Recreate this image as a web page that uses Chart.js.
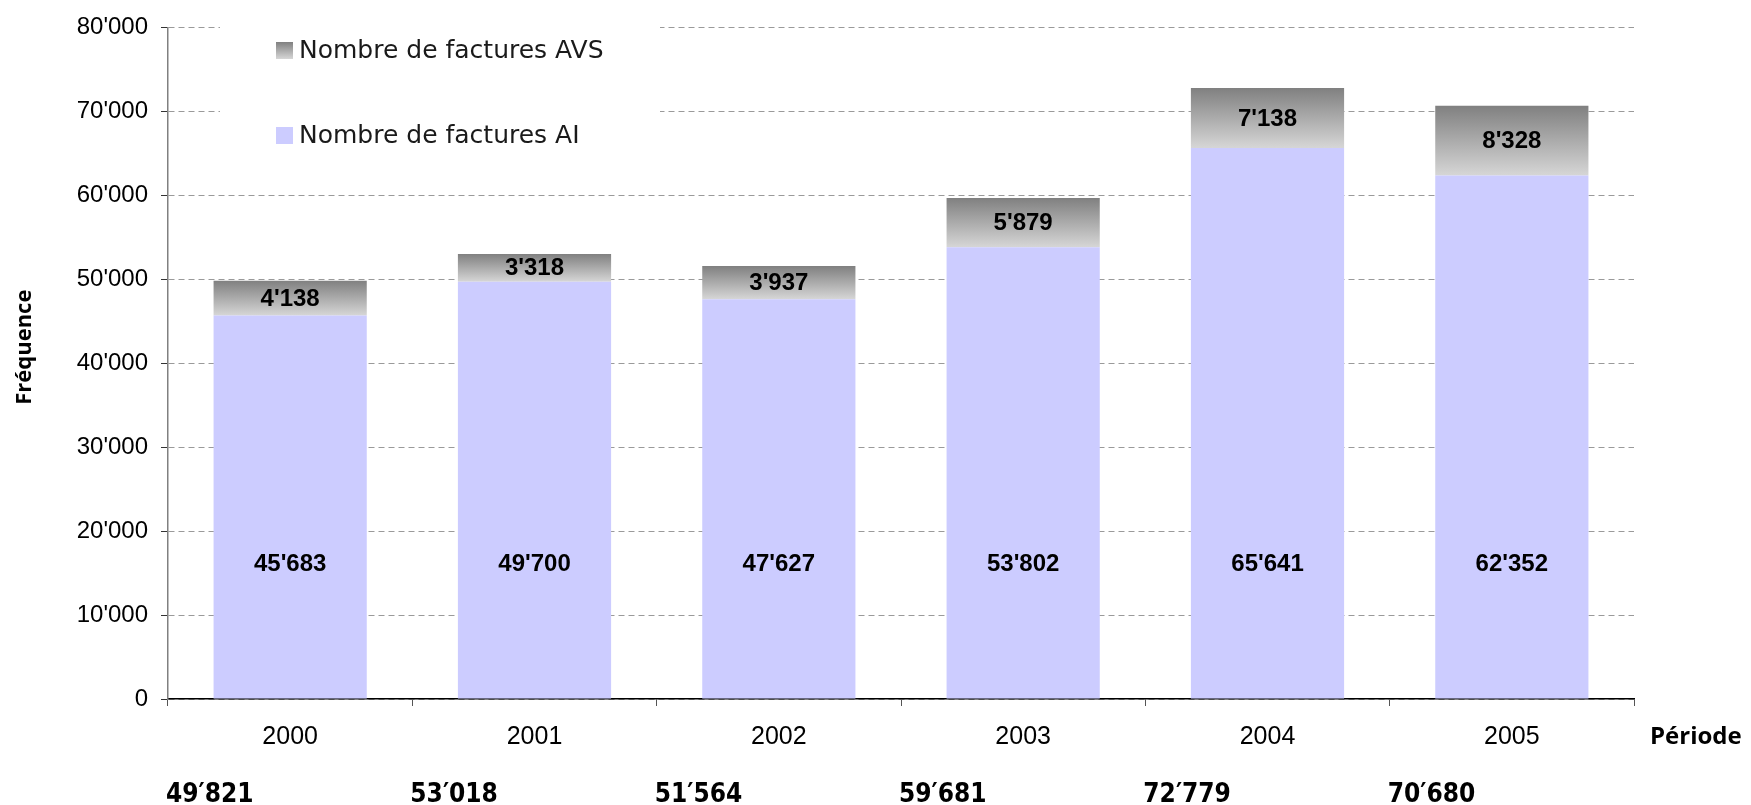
<!DOCTYPE html>
<html>
<head>
<meta charset="utf-8">
<script src="https://cdn.jsdelivr.net/npm/chart.js@4"></script>
<style>
    html, body { margin: 0; padding: 0; background: #fff; }
</style>
</head>
<body>
<canvas id="grafico" width="1751" height="805"></canvas>
<script>
// données
var annees = ["2000", "2001", "2002", "2003", "2004", "2005"];
var facturesAI = [45683, 49700, 47627, 53802, 65641, 62352];
var facturesAVS = [4138, 3318, 3937, 5879, 7138, 8328];
var totaux = [49821, 53018, 51564, 59681, 72779, 70680];
var echelleY = { min: 0, max: 80000, pas: 10000 };
var legendeAVS = "Nombre de factures AVS";
var legendeAI = "Nombre de factures AI";

var policeTexte = "'Liberation Sans', Arial, sans-serif";

function formatNombre(n, sep) {
    return String(n).replace(/\B(?=(\d{3})+(?!\d))/g, sep || "'");
}

function degradeGris(ctx, haut, bas) {
    var g = ctx.createLinearGradient(0, haut, 0, bas);
    g.addColorStop(0, "#808080");
    g.addColorStop(1, "#d6d6d6");
    return g;
}

// légende, étiquettes des barres, totaux et titres des axes
var etiquettes = {
    id: "etiquettes",
    beforeDatasetsDraw: function (chart) {
        // fond blanc de la légende qui cache le quadrillage
        var ctx = chart.ctx;
        ctx.save();
        ctx.fillStyle = "#fff";
        ctx.fillRect(220, 0, 440, 165);
        ctx.font = "25px 'DejaVu Sans', sans-serif";
        ctx.textBaseline = "middle";
        ctx.textAlign = "left";
        ctx.fillStyle = degradeGris(ctx, 42, 59);
        ctx.fillRect(276, 42, 17, 17);
        ctx.fillStyle = "#ccccff";
        ctx.fillRect(276, 127, 17, 17);
        ctx.fillStyle = "#1a1a1a";
        ctx.fillText(chart.data.datasets[1].label, 299, 51);
        ctx.fillText(chart.data.datasets[0].label, 299, 136);
        ctx.restore();
    },
    afterDatasetsDraw: function (chart) {
        var ctx = chart.ctx;
        var y = chart.scales.y;
        var metaAI = chart.getDatasetMeta(0);
        var metaAVS = chart.getDatasetMeta(1);
        ctx.save();
        ctx.font = "bold 24px " + policeTexte;
        ctx.fillStyle = "#000";
        ctx.textAlign = "center";
        ctx.textBaseline = "middle";
        for (var i = 0; i < annees.length; i++) {
            var bAI = metaAI.data[i];
            ctx.fillText(formatNombre(facturesAI[i]), bAI.x, y.getPixelForValue(16000));
            var bAVS = metaAVS.data[i];
            ctx.fillText(formatNombre(facturesAVS[i]), bAVS.x, (bAVS.y + bAVS.base) / 2 + 1);
        }
        ctx.restore();
    },
    afterDraw: function (chart) {
        var ctx = chart.ctx;
        var x = chart.scales.x;
        var area = chart.chartArea;
        ctx.save();
        ctx.fillStyle = "#000";
        ctx.textBaseline = "middle";
        ctx.textAlign = "left";
        ctx.font = "bold 26px 'DejaVu Sans Condensed', 'DejaVu Sans', sans-serif";
        for (var i = 0; i < totaux.length; i++) {
            ctx.fillText(formatNombre(totaux[i], "\u2032"), x.getPixelForValue(i - 0.5) - 2, 795);
        }
        ctx.font = "bold 24px 'Open Sans', sans-serif";
        ctx.fillText("Période", x.right + 16, 737);
        // titre vertical
        ctx.translate(25, (area.top + area.bottom) / 2 - 16);
        ctx.rotate(-Math.PI / 2);
        ctx.textAlign = "center";
        ctx.font = "bold 22px 'Open Sans', sans-serif";
        ctx.fillText("Fréquence", 0, 0);
        ctx.restore();
    }
};

var ctx = document.getElementById("grafico");
var chart = new Chart(ctx, {
    type: "bar",
    data: {
        labels: annees,
        datasets: [{
            label: legendeAI,
            data: facturesAI,
            backgroundColor: "#ccccff",
            borderWidth: 0
        }, {
            label: legendeAVS,
            data: facturesAVS,
            backgroundColor: function (context) {
                var c = context.chart;
                if (context.dataIndex === undefined || !c.scales.y) return "#a8a8a8";
                var i = context.dataIndex;
                var haut = c.scales.y.getPixelForValue(facturesAI[i] + facturesAVS[i]);
                var bas = c.scales.y.getPixelForValue(facturesAI[i]);
                if (!isFinite(haut) || !isFinite(bas)) return "#a8a8a8";
                return degradeGris(c.ctx, haut, bas);
            },
            borderWidth: 0
        }]
    },
    options: {
        responsive: false,
        animation: false,
        layout: { padding: { left: 8, right: 117, top: 25, bottom: 0 } },
        datasets: { bar: { categoryPercentage: 1, barPercentage: 0.627 } },
        plugins: {
            legend: { display: false },
            tooltip: { enabled: false }
        },
        scales: {
            x: {
                stacked: true,
                afterFit: function (s) { s.height = 106; },
                grid: {
                    offset: true,
                    drawOnChartArea: false,
                    drawTicks: true,
                    tickLength: 7,
                    tickColor: "#555"
                },
                border: { display: true, color: "#000", width: 1.5 },
                ticks: {
                    color: "#000",
                    padding: 16,
                    font: { family: policeTexte, size: 25 }
                }
            },
            y: {
                stacked: true,
                min: echelleY.min,
                max: echelleY.max,
                afterFit: function (s) { s.width = 160; },
                grid: {
                    color: "#9a9a9a",
                    drawTicks: true,
                    tickLength: 7,
                    tickColor: "#333"
                },
                border: { display: true, color: "#808080", width: 1.5, dash: [6, 4] },
                ticks: {
                    stepSize: echelleY.pas,
                    color: "#000",
                    padding: 13,
                    font: { family: policeTexte, size: 24 },
                    callback: function (v) { return formatNombre(v); }
                }
            }
        }
    },
    plugins: [etiquettes]
});
</script>
</body>
</html>
